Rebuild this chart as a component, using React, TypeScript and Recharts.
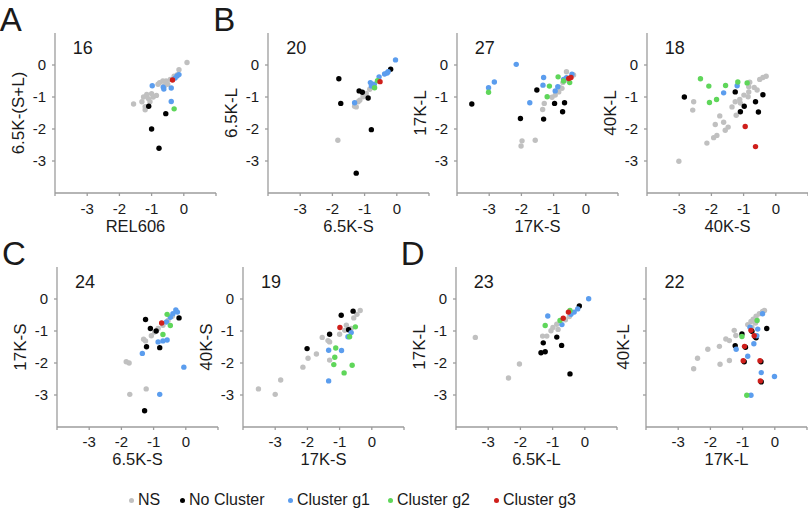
import React from 'react';
import { ScatterChart, Scatter, XAxis, YAxis } from 'recharts';

type Pt = [number, number];

// A: REL606 vs 6.5K-(S+L)
const A_NS: Pt[] = [[-1.56, -1.22], [-1.3, -1.15], [-1.25, -1.0], [-1.2, -1.3], [-1.1, -1.05], [-1.0, -0.9], [-0.95, -1.0], [-0.85, -0.95], [-1.15, -0.92], [-0.75, -0.55], [-0.65, -0.5], [-0.55, -0.5], [-0.5, -0.6], [-0.42, -0.45], [-0.3, -0.35], [-0.2, -0.3], [-0.15, -0.15], [0.1, 0.08], [-0.6, -0.65], [-1.05, -1.15], [-1.2, -1.4], [-0.8, -0.6]];
const A_NONE: Pt[] = [[-1.09, -1.29], [-0.56, -1.52], [-1.0, -2.0], [-0.77, -2.6]];
const A_G1: Pt[] = [[-0.98, -0.65], [-0.64, -0.69], [-0.62, -0.75], [-0.39, -0.72], [-0.39, -1.14], [-0.21, -0.34], [-0.15, -0.3], [-0.27, -0.41]];
const A_G2: Pt[] = [[-0.3, -1.37]];
const A_G3: Pt[] = [[-0.35, -0.47]];

// B: 6.5K-S vs 6.5K-L
const B1_NS: Pt[] = [[-1.83, -2.35], [-1.31, -1.29], [-1.26, -1.31], [-1.2, -1.15], [-1.15, -1.1], [-1.05, -0.99], [-0.95, -0.89], [-0.84, -0.76], [-0.74, -0.7], [-1.0, -0.95]];
const B1_NONE: Pt[] = [[-0.19, -0.13], [-1.8, -0.43], [-1.74, -1.2], [-1.17, -0.81], [-1.07, -0.85], [-0.89, -1.03], [-0.79, -2.02], [-1.26, -3.38]];
const B1_G1: Pt[] = [[-0.04, 0.16], [-0.27, -0.21], [-0.38, -0.28], [-0.55, -0.37], [-0.82, -0.55], [-0.79, -0.66], [-1.31, -1.18], [-0.3, -0.25], [-0.7, -0.6]];
const B1_G2: Pt[] = [[-0.6, -0.49], [-0.69, -0.71]];
const B1_G3: Pt[] = [[-0.52, -0.52]];

// 17K-S vs 17K-L
const B2_NS: Pt[] = [[-0.6, -0.21], [-1.98, -2.37], [-2.01, -2.53], [-1.57, -2.35], [-1.29, -1.2], [-1.34, -1.39], [-1.05, -1.01], [-0.95, -0.94], [-0.84, -0.84], [-0.74, -0.73], [-0.71, -0.55], [-0.58, -0.47], [-0.38, -0.31], [-0.81, -0.7]];
const B2_NONE: Pt[] = [[-3.54, -1.22], [-1.52, -0.78], [-2.03, -1.67], [-1.31, -1.69], [-0.97, -1.2], [-0.66, -1.18], [-0.72, -1.46]];
const B2_G1: Pt[] = [[-2.16, 0.02], [-2.84, -0.53], [-3.02, -0.71], [-1.74, -1.18], [-1.31, -0.39], [-1.33, -0.63], [-0.95, -0.81], [-0.87, -0.68], [-0.69, -0.45], [-0.43, -0.29], [-0.6, -0.4]];
const B2_G2: Pt[] = [[-3.02, -0.85], [-1.13, -0.66], [-1.2, -0.99], [-0.86, -0.37], [-0.69, -0.5], [-0.5, -0.55]];
const B2_G3: Pt[] = [[-0.53, -0.42], [-0.46, -0.39]];

// 40K-S vs 40K-L
const B3_NS: Pt[] = [[-3.01, -3.01], [-2.55, -1.15], [-2.58, -1.41], [-1.74, -1.59], [-1.88, -1.86], [-1.62, -1.79], [-1.48, -1.94], [-1.57, -2.04], [-1.83, -2.2], [-1.93, -2.27], [-2.14, -2.44], [-1.36, -1.31], [-1.26, -1.15], [-1.12, -1.08], [-0.99, -0.94], [-0.84, -0.84], [-0.86, -0.99], [-0.84, -0.68], [-0.81, -0.54], [-0.67, -0.7], [-0.58, -0.78], [-0.5, -0.45], [-0.4, -0.39], [-0.3, -0.35], [-1.23, -1.57], [-1.1, -1.19]];
const B3_NONE: Pt[] = [[-2.84, -1.0], [-1.26, -0.84], [-0.98, -1.29], [-1.1, -1.46], [-0.63, -1.15], [-0.4, -0.93], [-0.54, -1.47]];
const B3_G1: Pt[] = [[-1.62, -0.87], [-1.2, -0.65]];
const B3_G2: Pt[] = [[-2.34, -0.43], [-2.08, -0.66], [-1.56, -0.64], [-1.18, -0.53], [-0.89, -0.56], [-2.06, -1.17], [-1.84, -1.08]];
const B3_G3: Pt[] = [[-0.95, -1.92], [-0.63, -2.55]];

// C: 6.5K-S vs 17K-S
const C1_NS: Pt[] = [[-1.85, -1.96], [-1.76, -2.0], [-1.31, -1.26], [-1.25, -1.31], [-1.07, -1.15], [-0.97, -1.03], [-0.86, -0.92], [-0.71, -0.82], [-0.55, -0.67], [-0.42, -0.54], [-1.74, -2.98], [-1.23, -2.81]];
const C1_NONE: Pt[] = [[-1.25, -0.64], [-1.1, -0.92], [-0.92, -1.0], [-0.21, -0.59], [-1.22, -1.49], [-0.81, -1.52], [-1.28, -3.49]];
const C1_G1: Pt[] = [[-0.31, -0.34], [-0.26, -0.41], [-0.4, -0.46], [-0.48, -0.57], [-0.6, -0.72], [-0.86, -1.34], [-0.71, -1.31], [-0.58, -1.28], [-1.35, -1.7], [-0.06, -2.13], [-0.81, -2.98]];
const C1_G2: Pt[] = [[-0.58, -0.48], [-0.48, -0.83], [-0.71, -1.11]];
const C1_G3: Pt[] = [[-0.75, -0.75]];

// 17K-S vs 40K-S
const C2_NS: Pt[] = [[-3.52, -2.81], [-3.0, -2.98], [-2.83, -2.53], [-2.14, -2.13], [-1.98, -1.85], [-1.72, -1.72], [-1.54, -1.2], [-1.31, -1.34], [-1.31, -1.91], [-1.0, -1.1], [-0.84, -0.98], [-0.79, -0.82], [-0.56, -0.59], [-0.46, -0.48], [-0.36, -0.36], [-0.64, -0.92], [-1.36, -1.3]];
const C2_NONE: Pt[] = [[-2.01, -1.55], [-1.31, -1.1], [-0.95, -0.51], [-0.58, -0.38], [-0.72, -0.96]];
const C2_G1: Pt[] = [[-1.34, -1.6], [-0.94, -1.61], [-0.64, -1.05], [-0.74, -1.18], [-1.34, -2.56]];
const C2_G2: Pt[] = [[-0.51, -0.87], [-0.69, -1.18], [-1.12, -1.53], [-1.15, -1.82], [-1.18, -2.05], [-0.61, -2.07], [-0.86, -2.31]];
const C2_G3: Pt[] = [[-0.99, -0.89]];

// D: 6.5K-L vs 17K-L
const D1_NS: Pt[] = [[-3.4, -1.2], [-2.03, -2.03], [-2.37, -2.47], [-1.31, -1.16], [-1.18, -1.16], [-1.05, -0.99], [-0.99, -0.89], [-0.87, -0.79], [-0.83, -0.95], [-0.6, -0.65], [-0.48, -0.55]];
const D1_NONE: Pt[] = [[-0.17, -0.22], [-1.29, -1.37], [-1.36, -1.68], [-1.23, -1.65], [-0.87, -1.19], [-0.72, -1.45], [-0.46, -2.34]];
const D1_G1: Pt[] = [[0.12, 0.01], [-1.15, -0.53], [-0.71, -0.8], [-0.33, -0.41], [-0.22, -0.31], [-0.43, -0.48]];
const D1_G2: Pt[] = [[-1.23, -0.83], [-0.77, -0.67], [-0.46, -0.36]];
const D1_G3: Pt[] = [[-0.51, -0.41], [-0.67, -0.6]];

// 17K-L vs 40K-L
const D2_NS: Pt[] = [[-2.52, -2.18], [-2.4, -1.85], [-2.08, -1.57], [-1.72, -1.48], [-1.7, -2.04], [-1.52, -1.25], [-1.41, -1.3], [-1.26, -0.98], [-1.21, -1.14], [-1.41, -1.92], [-0.84, -0.8], [-0.74, -0.7], [-0.67, -0.63], [-0.58, -0.54], [-0.48, -0.46], [-0.38, -0.39], [-0.32, -0.36], [-0.6, -0.75], [-0.71, -0.88]];
const D2_NONE: Pt[] = [[-0.25, -0.92], [-1.02, -1.09], [-1.23, -1.46], [-0.58, -1.21], [-0.71, -1.01], [-0.61, -1.18], [-0.91, -1.51], [-0.95, -1.96], [-0.43, -1.96], [-0.42, -2.59]];
const D2_G1: Pt[] = [[-0.38, -0.46], [-0.77, -0.88], [-0.53, -0.94], [-1.2, -1.57], [-0.65, -1.4], [-0.84, -1.79], [-0.42, -2.3], [-0.01, -2.42], [-0.74, -3.01], [-0.56, -1.15]];
const D2_G2: Pt[] = [[-0.55, -0.67], [-1.02, -1.17], [-0.87, -3.01]];
const D2_G3: Pt[] = [[-0.74, -0.98], [-0.64, -1.15], [-0.94, -1.48], [-0.98, -1.93], [-0.46, -1.93], [-0.45, -2.56]];

const GROUPS = ['NS', 'No Cluster', 'Cluster g1', 'Cluster g2', 'Cluster g3'];
const COLORS = ['#c0c0c0', '#000000', '#5b9dee', '#5fd65a', '#cf1f1b'];
const X_TICKS = [-4, -3, -2, -1, 0, 1];
const Y_TICKS = [-3, -2, -1, 0];

const AXIS = '#9c9c9c';
const INK = '#1a1a1a';
const PW = 161;
const PH = 160;
const AXW = 48;
const AXH = 45;
const MT = 4;

const PANELS = [
  { letter: 'A', count: '16', xTitle: 'REL606', yTitle: '6.5K-(S+L)', left: 54.7, top: 33, series: [A_NS, A_NONE, A_G1, A_G2, A_G3] },
  { letter: 'B', count: '20', xTitle: '6.5K-S', yTitle: '6.5K-L', left: 268.3, top: 33, series: [B1_NS, B1_NONE, B1_G1, B1_G2, B1_G3] },
  { letter: '', count: '27', xTitle: '17K-S', yTitle: '17K-L', left: 456.7, top: 33, series: [B2_NS, B2_NONE, B2_G1, B2_G2, B2_G3] },
  { letter: '', count: '18', xTitle: '40K-S', yTitle: '40K-L', left: 646.7, top: 33, series: [B3_NS, B3_NONE, B3_G1, B3_G2, B3_G3] },
  { letter: 'C', count: '24', xTitle: '6.5K-S', yTitle: '17K-S', left: 57, top: 267, series: [C1_NS, C1_NONE, C1_G1, C1_G2, C1_G3] },
  { letter: '', count: '19', xTitle: '17K-S', yTitle: '40K-S', left: 243, top: 267, series: [C2_NS, C2_NONE, C2_G1, C2_G2, C2_G3] },
  { letter: 'D', count: '23', xTitle: '6.5K-L', yTitle: '17K-L', left: 455.7, top: 267, series: [D1_NS, D1_NONE, D1_G1, D1_G2, D1_G3] },
  { letter: '', count: '22', xTitle: '17K-L', yTitle: '40K-L', left: 646.4, top: 267, series: [D2_NS, D2_NONE, D2_G1, D2_G2, D2_G3], noYLabels: true },
];

const LEGEND_X = [132, 183, 291, 391, 497];

function XTitle(props: any) {
  const { viewBox, text, base } = props;
  if (!viewBox) return null;
  return (
    <text x={viewBox.x + viewBox.width / 2} y={viewBox.y + base} textAnchor="middle" fontSize={16.5} fill={INK}>
      {text}
    </text>
  );
}

function YTitle(props: any) {
  const { viewBox, text, gap } = props;
  if (!viewBox) return null;
  const cx = viewBox.x + viewBox.width - gap;
  const cy = viewBox.y + viewBox.height / 2;
  return (
    <text x={cx} y={cy} transform={`rotate(-90 ${cx} ${cy})`} textAnchor="middle" dominantBaseline="central" fontSize={17} fill={INK}>
      {text}
    </text>
  );
}

const dot = (props: any) => <circle cx={props.cx} cy={props.cy} r={2.7} fill={props.fill} />;

function Panel({ p }: { p: any }) {
  const bottomRow = p.top > 200;
  return (
    <div style={{ position: 'absolute', left: p.left - AXW, top: p.top - MT }}>
      <ScatterChart width={AXW + PW + 2} height={MT + PH + AXH + 2} margin={{ top: MT, right: 2, bottom: 2, left: 0 }}>
        <XAxis
          type="number"
          dataKey="x"
          domain={[-4, 1]}
          ticks={X_TICKS}
          interval={0}
          allowDataOverflow
          height={AXH}
          tickSize={3}
          tickMargin={bottomRow ? 6 : 7}
          stroke={AXIS}
          strokeWidth={1.3}
          tick={{ fill: INK, fontSize: 15 }}
          tickFormatter={(v: number) => (v === -4 || v === 1 ? '' : String(v))}
          label={<XTitle text={p.xTitle} base={bottomRow ? 38 : 39} />}
        />
        <YAxis
          type="number"
          dataKey="y"
          domain={[-4, 1]}
          ticks={Y_TICKS}
          interval={0}
          allowDataOverflow
          width={AXW}
          tickSize={3}
          tickMargin={6}
          stroke={AXIS}
          strokeWidth={1.3}
          tick={{ fill: INK, fontSize: 15 }}
          tickFormatter={(v: number) => (p.noYLabels ? '' : String(v))}
          label={<YTitle text={p.yTitle} gap={p.noYLabels ? 23 : 37} />}
        />
        {p.series.map((pts: Pt[], i: number) => (
          <Scatter
            key={GROUPS[i]}
            name={GROUPS[i]}
            data={pts.map(([x, y]) => ({ x, y }))}
            fill={COLORS[i]}
            shape={dot}
            isAnimationActive={false}
          />
        ))}
      </ScatterChart>
    </div>
  );
}

export default function App() {
  return (
    <div
      style={{
        position: 'absolute',
        left: 0,
        top: 0,
        width: 808,
        height: 514,
        overflow: 'hidden',
        background: '#fff',
        fontFamily: "'Liberation Sans', Arial, sans-serif",
        color: INK,
      }}
    >
      {PANELS.map((p, i) => (
        <Panel key={i} p={p} />
      ))}
      {PANELS.map((p, i) => (
        <div key={'n' + i} style={{ position: 'absolute', left: p.left + 18, top: p.top + 6, fontSize: 18, lineHeight: 1 }}>
          {p.count}
        </div>
      ))}
      {PANELS.filter((p) => p.letter).map((p) => (
        <div key={p.letter} style={{ position: 'absolute', left: p.left - 55, top: p.top - 30, fontSize: 33, lineHeight: 1 }}>
          {p.letter}
        </div>
      ))}
      {GROUPS.map((g, i) => (
        <div key={g} style={{ position: 'absolute', left: LEGEND_X[i] - 3, top: 491, fontSize: 16, lineHeight: '18px', whiteSpace: 'nowrap', display: 'flex', alignItems: 'center' }}>
          <span style={{ width: 5, height: 5, borderRadius: '50%', background: COLORS[i], marginRight: 4, display: 'inline-block' }} />
          {g}
        </div>
      ))}
    </div>
  );
}
